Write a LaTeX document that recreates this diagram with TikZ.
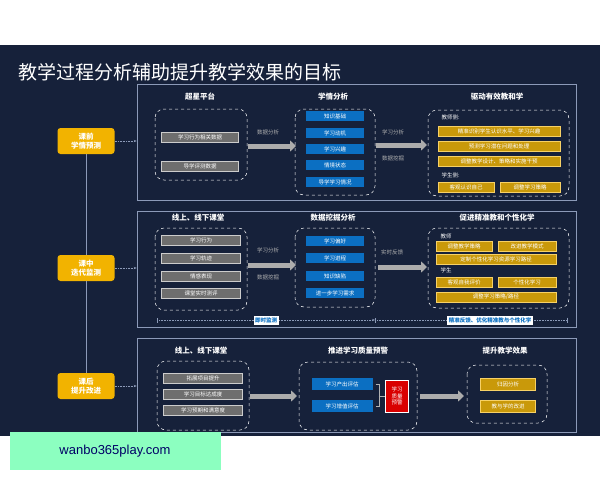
\documentclass[tikz,border=0pt]{standalone}
\usepackage{fontspec}
\setmainfont{Noto Sans CJK SC}
\usetikzlibrary{arrows.meta}
\definecolor{bg}{HTML}{16213A}
\definecolor{ylw}{HTML}{C9990A}
\definecolor{ybtn}{HTML}{F2B300}
\definecolor{blu}{HTML}{0B6FC2}
\definecolor{gry}{HTML}{6E6E6E}
\definecolor{lne}{HTML}{8C9AB8}
\begin{document}
\begin{tikzpicture}[x=1pt,y=-1pt,
  hd/.style={text=white,font=\fontsize{7.5}{8}\selectfont\bfseries},
  lb/.style={text=gray!60,font=\fontsize{5.5}{6}\selectfont},
  panel/.style={draw=lne,line width=0.6pt},
  dbox/.style={draw=white!80,dashed,rounded corners=9pt,line width=0.5pt},
  gbar/.style={fill=gry,draw=gray!40,line width=0.3pt,text=white!85,font=\fontsize{5.5}{6}\selectfont,inner sep=0pt,minimum height=10pt},
  bbar/.style={fill=blu,text=white,font=\fontsize{5.5}{6}\selectfont,inner sep=0pt,minimum height=10pt,minimum width=58pt},
  ybar/.style={fill=ylw,draw=ybtn!60,line width=0.3pt,text=white,font=\fontsize{5.5}{6}\selectfont,inner sep=0pt,minimum height=10pt},
  phase/.style={fill=ybtn,rounded corners=3pt,text=white,font=\fontsize{7.5}{9}\selectfont\bfseries,minimum width=57pt,minimum height=26pt,align=center},
  bigarrow/.style={draw=gray!65,line width=5pt,-{Triangle[length=6pt,width=11pt]}},
  dotarr/.style={draw=lne,densely dotted,line width=0.6pt,-{Stealth[length=3pt]}}]
\useasboundingbox (0,0) rectangle (600,480);
\fill[white] (0,0) rectangle (600,480);
\fill[bg] (0,45) rectangle (600,436);
\node[anchor=west,text=white,font=\fontsize{19}{21}\selectfont] (title) at (15,72) {教学过程分析辅助提升教学效果的目标};
% phases
\node[phase] (p1) at (86,141) {课前\\学情预测};
\node[phase] (p2) at (86,268) {课中\\迭代监测};
\node[phase] (p3) at (86,386) {课后\\提升改进};
\draw[lne,line width=0.6pt] (p1) -- (p2) (p2) -- (p3);
% panels
\node[panel,minimum width=439pt,minimum height=116pt,inner sep=0pt] (r1) at (356.5,142) {};
\node[panel,minimum width=439pt,minimum height=116pt,inner sep=0pt] (r2) at (356.5,269) {};
\node[panel,minimum width=439pt,minimum height=94pt,inner sep=0pt] (r3) at (356.5,385) {};
\draw[dotarr] (p1.east) -- (r1.west|-p1.east);
\draw[dotarr] (p2.east) -- (r2.west|-p2.east);
\draw[dotarr] (p3.east) -- (r3.west|-p3.east);
% row 1
\node[hd] (t11) at (200,97) {超星平台};
\draw[dbox] (155,109) rectangle (247,180);
\node[gbar,minimum width=77pt] (a1) at (200,137) {学习行为相关数据};
\node[gbar,minimum width=77pt] (a2) at (200,166) {导学评测数据};
\node[lb] (l11) at (268,132) {数据分析};
\coordinate (s11) at (248,146); \coordinate (e11) at (296,146);
\draw[bigarrow] (s11) -- (e11);
\node[hd] (t12) at (333,97) {学情分析};
\draw[dbox] (295,109) rectangle (375,195);
\foreach \y/\t in {116/知识基础,133/学习动机,149/学习兴趣,165/情境状态,182/导学学习情况}
  \node[bbar] at (335,\y) {\t};
\node[lb] (l12) at (393,132) {学习分析};
\node[lb] (l13) at (393,158) {数据挖掘};
\coordinate (s12) at (376,145); \coordinate (e12) at (427,145);
\draw[bigarrow] (s12) -- (e12);
\node[hd] (t13) at (497,97) {驱动有效教和学};
\draw[dbox] (428,110) rectangle (569,196);
\node[lb,text=white!85,anchor=west] at (438,117) {教师侧:};
\foreach \y/\t in {131/精准识别学生认识水平、学习兴趣,146/预测学习潜在问题和处理,161/调整教学设计、策略和实施干预}
  \node[ybar,minimum width=122pt] at (499,\y) {\t};
\node[lb,text=white!85,anchor=west] at (438,175) {学生侧:};
\node[ybar,minimum width=56pt] at (466,187) {客观认识自己};
\node[ybar,minimum width=60pt] at (530,187) {调整学习策略};
% row 2
\node[hd] (t21) at (198,218) {线上、线下课堂};
\draw[dbox] (155,228) rectangle (247,310);
\foreach \y/\t in {240/学习行为,258/学习轨迹,276/情感表现,293/课堂实时测评}
  \node[gbar,minimum width=79pt] at (201,\y) {\t};
\node[lb] at (268,250) {学习分析};
\node[lb] at (268,277) {数据挖掘};
\coordinate (s21) at (248,265); \coordinate (e21) at (296,265);
\draw[bigarrow] (s21) -- (e21);
\node[hd] (t22) at (333,218) {数据挖掘分析};
\draw[dbox] (295,228) rectangle (375,307);
\foreach \y/\t in {241/学习偏好,258/学习进程,276/知识缺陷,293/进一步学习需求}
  \node[bbar] at (335,\y) {\t};
\node[lb] at (392,252) {实时反馈};
\coordinate (s22) at (378,267); \coordinate (e22) at (427,267);
\draw[bigarrow] (s22) -- (e22);
\node[hd] (t23) at (497,218) {促进精准教和个性化学};
\draw[dbox] (428,228) rectangle (569,308);
\node[lb,text=white!85,anchor=west] at (437,236) {教师};
\node[ybar,minimum width=56pt] at (464,246) {调整教学策略};
\node[ybar,minimum width=58pt] at (527,246) {改进教学模式};
\node[ybar,minimum width=120pt] at (496,259) {定制个性化学习资源学习路径};
\node[lb,text=white!85,anchor=west] at (437,270) {学生};
\node[ybar,minimum width=56pt] at (464,282) {客观自我评价};
\node[ybar,minimum width=58pt] at (527,282) {个性化学习};
\node[ybar,minimum width=120pt] at (496,297) {调整学习策略/路径};
\coordinate (m1) at (157,320); \coordinate (m2) at (375,320); \coordinate (m3) at (568,320);
\draw[lne,densely dotted,line width=0.6pt,{Bar[width=5pt]}-{Stealth[length=3pt]}] (m1) -- (m2);
\draw[lne,densely dotted,line width=0.6pt,{Bar[width=5pt]}-{Bar[width=5pt]}] (m2) -- (m3);
\node[fill=white,text=blu,font=\fontsize{5.5}{6}\selectfont\bfseries,inner sep=1.5pt,minimum height=9pt] at (266,320) {即时监测};
\node[fill=white,text=blu,font=\fontsize{5.5}{6}\selectfont\bfseries,inner sep=1.5pt,minimum height=9pt] at (490,320) {精准反馈、优化精准教与个性化学};
% row 3
\node[hd] (t31) at (201,351) {线上、线下课堂};
\draw[dbox] (157,361) rectangle (249,430);
\foreach \y/\t in {378/拓展项目提升,394/学习目标达成度,410/学习预期和满意度}
  \node[gbar,minimum width=79pt] at (203,\y) {\t};
\coordinate (s31) at (250,396); \coordinate (e31) at (297,396);
\draw[bigarrow] (s31) -- (e31);
\node[hd] (t32) at (358,351) {推进学习质量预警};
\draw[dbox] (299,362) rectangle (417,430);
\node[bbar,minimum width=61pt,minimum height=12pt] (q1) at (342,384) {学习产出评估};
\node[bbar,minimum width=61pt,minimum height=12pt] (q2) at (342,406) {学习增值评估};
\node[fill=red!85!black,draw=white!70,line width=0.3pt,text=white,font=\fontsize{5.5}{6.5}\selectfont,align=center,minimum width=23pt,minimum height=32pt,inner sep=0pt] (qw) at (397,396) {学习\\质量\\预警};
\draw[gray!60,line width=0.4pt] (q1.east)+(3,0) -- ++(6,0) |- ([xshift=3pt]q2.east) ([xshift=6pt]q1.east|-qw) -- (qw.west);
\coordinate (s32) at (420,396); \coordinate (e32) at (464,396);
\draw[bigarrow] (s32) -- (e32);
\node[hd] (t33) at (505,351) {提升教学效果};
\draw[dbox] (467,365) rectangle (547,423);
\node[ybar,minimum width=55pt,minimum height=12pt] at (508,384) {归因分析};
\node[ybar,minimum width=55pt,minimum height=12pt] at (508,406) {教与学的改进};
% watermark
\fill[green!55!cyan!45!white] (10,432) rectangle (221,470);
\node[text=blue!40!black,font=\fontspec{Liberation Sans}\fontsize{13}{15}\selectfont] (wm) at (115,451) {wanbo365play.com};
\end{tikzpicture}
\end{document}
